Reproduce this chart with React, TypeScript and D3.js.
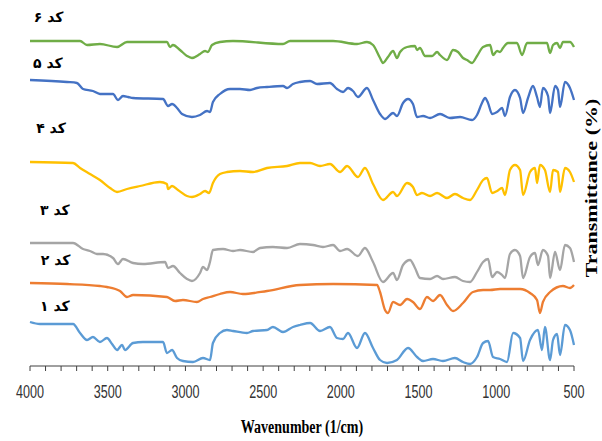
import React from "react";
import * as d3 from "d3";

// [wavenumber (1/cm), offset transmittance]
const code6: [number, number][] = [
  [4000, 325], [3678, 325], [3633, 321], [3550, 322], [3440, 319], [3376, 324], [3119, 324], [3099, 319], [3080, 321],
  [3035, 316], [2990, 310], [2958, 308], [2906, 312], [2874, 315], [2855, 314], [2829, 321], [2778, 324], [2694, 325],
  [2372, 322], [2327, 325], [2050, 325], [1896, 322], [1832, 324], [1793, 321], [1748, 308], [1729, 303], [1697, 309],
  [1664, 315], [1639, 308], [1619, 314], [1574, 319], [1523, 320], [1510, 316], [1491, 318], [1458, 310], [1413, 310],
  [1381, 314], [1362, 311], [1317, 306], [1278, 316], [1246, 314], [1214, 308], [1188, 306], [1156, 303], [1124, 310],
  [1085, 319], [1040, 321], [1021, 311], [995, 315], [976, 314], [957, 318], [925, 323], [867, 323], [834, 311],
  [802, 323], [674, 323], [654, 313], [635, 321], [609, 323], [590, 318], [571, 324], [526, 324], [500, 319],
];
const code5: [number, number][] = [
  [4000, 286], [3762, 284], [3698, 283], [3659, 277], [3595, 275], [3550, 272], [3466, 272], [3434, 266], [3402, 270],
  [3369, 269], [3337, 268], [3144, 267], [3112, 260], [3086, 262], [3054, 258], [3022, 252], [2958, 249], [2906, 251],
  [2861, 255], [2842, 254], [2823, 264], [2778, 272], [2713, 277], [2649, 277], [2584, 276], [2539, 278], [2475, 279],
  [2372, 280], [2346, 278], [2308, 282], [2263, 284], [2198, 285], [2153, 282], [2070, 283], [2025, 277], [1986, 274],
  [1954, 278], [1922, 275], [1890, 269], [1832, 278], [1793, 266], [1748, 252], [1716, 247], [1664, 253], [1639, 250],
  [1600, 263], [1568, 267], [1536, 262], [1510, 249], [1471, 250], [1426, 248], [1362, 252], [1298, 248], [1233, 249],
  [1156, 246], [1124, 251], [1092, 263], [1072, 268], [1053, 263], [1027, 252], [995, 254], [963, 258], [944, 250],
  [912, 269], [880, 276], [847, 268], [828, 253], [796, 268], [764, 280], [738, 269], [719, 259], [700, 278],
  [667, 270], [654, 253], [622, 280], [603, 276], [590, 259], [558, 284], [526, 278], [500, 266],
];
const code4: [number, number][] = [
  [4000, 204], [3723, 203], [3678, 198], [3614, 192], [3550, 186], [3485, 178], [3440, 174], [3376, 177], [3292, 180],
  [3164, 184], [3119, 182], [3112, 177], [3086, 180], [3048, 176], [2990, 170], [2958, 169], [2906, 172], [2874, 175],
  [2848, 173], [2823, 183], [2778, 192], [2733, 194], [2649, 195], [2565, 194], [2475, 198], [2346, 200], [2263, 203],
  [2198, 203], [2134, 200], [2070, 202], [2005, 194], [1960, 200], [1890, 189], [1845, 198], [1793, 182], [1729, 166],
  [1664, 174], [1639, 170], [1574, 183], [1536, 179], [1510, 171], [1478, 173], [1426, 170], [1381, 173], [1317, 168],
  [1266, 172], [1214, 168], [1169, 166], [1124, 176], [1085, 186], [1060, 188], [1027, 173], [995, 175], [963, 178],
  [944, 171], [912, 196], [880, 201], [847, 196], [828, 171], [783, 194], [751, 198], [738, 183], [719, 201],
  [687, 196], [654, 174], [635, 196], [603, 194], [590, 174], [558, 198], [526, 194], [500, 184],
];
const code3: [number, number][] = [
  [4000, 123], [3723, 123], [3659, 117], [3614, 115], [3569, 112], [3530, 112], [3466, 108], [3434, 102], [3402, 107],
  [3337, 103], [3273, 102], [3131, 104], [3112, 98], [3080, 100], [3035, 93], [2990, 87], [2958, 85], [2906, 93],
  [2887, 99], [2861, 96], [2842, 104], [2823, 116], [2758, 117], [2694, 115], [2649, 116], [2565, 114], [2520, 118],
  [2437, 119], [2346, 118], [2263, 122], [2179, 121], [2115, 119], [2050, 121], [2005, 115], [1960, 117], [1890, 110],
  [1845, 118], [1793, 104], [1729, 84], [1664, 93], [1639, 86], [1600, 101], [1555, 106], [1523, 98], [1491, 88],
  [1426, 87], [1381, 90], [1343, 87], [1266, 89], [1214, 85], [1169, 84], [1124, 94], [1085, 104], [1053, 107],
  [1027, 89], [995, 94], [963, 91], [944, 88], [912, 112], [880, 116], [847, 110], [828, 88], [783, 109], [751, 113],
  [732, 101], [700, 116], [667, 110], [654, 88], [622, 114], [590, 96], [558, 121], [526, 118], [500, 104],
];
const code2: [number, number][] = [
  [4000, 83], [3762, 82], [3550, 80], [3505, 79], [3421, 75], [3376, 69], [3337, 71], [3119, 69], [3067, 65],
  [3016, 66], [2926, 64], [2887, 67], [2842, 69], [2778, 72], [2713, 74], [2630, 72], [2475, 75], [2263, 81],
  [2050, 82], [1767, 81], [1748, 74], [1716, 56], [1697, 53], [1664, 64], [1619, 61], [1574, 67], [1536, 64],
  [1491, 57], [1446, 69], [1407, 65], [1362, 71], [1317, 61], [1278, 55], [1214, 63], [1150, 74], [1085, 76],
  [1040, 76], [976, 77], [847, 77], [783, 73], [738, 66], [719, 53], [700, 64], [654, 74], [571, 80], [526, 78],
  [500, 81],
];
const code1: [number, number][] = [
  [4000, 44], [3936, 42], [3723, 42], [3678, 33], [3633, 26], [3595, 29], [3550, 24], [3505, 28], [3472, 22],
  [3440, 16], [3408, 21], [3389, 16], [3337, 23], [3273, 24], [3144, 24], [3119, 13], [3086, 16], [3054, 8],
  [3016, 5], [2951, 4], [2887, 8], [2842, 6], [2823, 23], [2778, 33], [2733, 36], [2694, 35], [2604, 33], [2565, 35],
  [2475, 36], [2437, 39], [2372, 34], [2308, 39], [2263, 41], [2198, 43], [2134, 35], [2070, 39], [2025, 28],
  [1986, 27], [1954, 33], [1896, 18], [1845, 33], [1793, 18], [1748, 6], [1703, 3], [1639, 6], [1568, 18], [1510, 9],
  [1471, 5], [1407, 7], [1343, 5], [1266, 8], [1214, 4], [1169, 2], [1124, 9], [1085, 23], [1053, 25], [1021, 9],
  [976, 7], [931, 4], [892, 33], [847, 28], [828, 5], [783, 26], [732, 36], [706, 16], [687, 39], [654, 6], [635, 26],
  [609, 32], [590, 11], [558, 41], [526, 36], [500, 21],
];

const seriesNames = ["کد ۶", "کد ۵", "کد ۴", "کد ۳", "کد ۲", "کد ۱"];
const seriesData = [code6, code5, code4, code3, code2, code1];
const seriesColors = ["#70AD47", "#4472C4", "#FFC000", "#A5A5A5", "#ED7D31", "#5B9BD5"];
// label anchor: [wavenumber, value]
const labelPos: [number, number][] = [
  [3880, 349], [3885, 303], [3865, 238], [3840, 156], [3835, 106], [3840, 60],
];
const xMajorTicks = [4000, 3500, 3000, 2500, 2000, 1500, 1000, 500];
const xMinorTicks = d3.range(4000, 499, -100);

export default function App() {
  const W = 602, H = 441;
  const x = d3.scaleLinear().domain([4000, 500]).range([30, 574]);
  const y = d3.scaleLinear().domain([0, 356]).range([366, 10]);
  const line = d3.line<[number, number]>()
    .x(d => x(d[0]))
    .y(d => y(d[1]))
    .curve(d3.curveMonotoneX);
  const axisY = y(0);
  return (
    <div>
      <style>{`body{margin:0;}`}</style>
      <svg width={W} height={H} style={{ display: "block", background: "#fff" }}>
        {seriesData.map((s, i) => (
          <path key={i} d={line(s) || ""} fill="none" stroke={seriesColors[i]} strokeWidth={2.3} strokeLinejoin="round" />
        ))}
        {seriesNames.map((n, i) => (
          <text key={n} x={x(labelPos[i][0])} y={y(labelPos[i][1])} textAnchor="middle" dominantBaseline="central"
            fontFamily="DejaVu Sans" fontWeight="bold" fontSize={14} fill="#000">{n}</text>
        ))}
        <line x1={x(4000)} x2={x(500)} y1={axisY} y2={axisY} stroke="#404040" strokeWidth={1} />
        {xMinorTicks.map(t => (
          <line key={t} x1={x(t)} x2={x(t)} y1={axisY} y2={axisY + 5} stroke="#404040" strokeWidth={1} />
        ))}
        {xMajorTicks.map(t => (
          <text key={t} transform={`translate(${x(t)},${axisY + 32}) scale(0.7,1)`} textAnchor="middle"
            fontFamily="Liberation Sans, Arial, sans-serif" fontSize={18} fill="#333">{t}</text>
        ))}
        <text transform={`translate(302,433) scale(0.75,1)`} textAnchor="middle" fontFamily="Liberation Serif, Times New Roman, serif"
          fontWeight="bold" fontSize={18.7} fill="#000">Wavenumber (1/cm)</text>
        <text transform={`translate(591,188) scale(0.75,1) rotate(-90)`} textAnchor="middle" dy="0.35em"
          fontFamily="Liberation Serif, Times New Roman, serif" fontWeight="bold" fontSize={22} fill="#000">Transmittance (%)</text>
      </svg>
    </div>
  );
}
